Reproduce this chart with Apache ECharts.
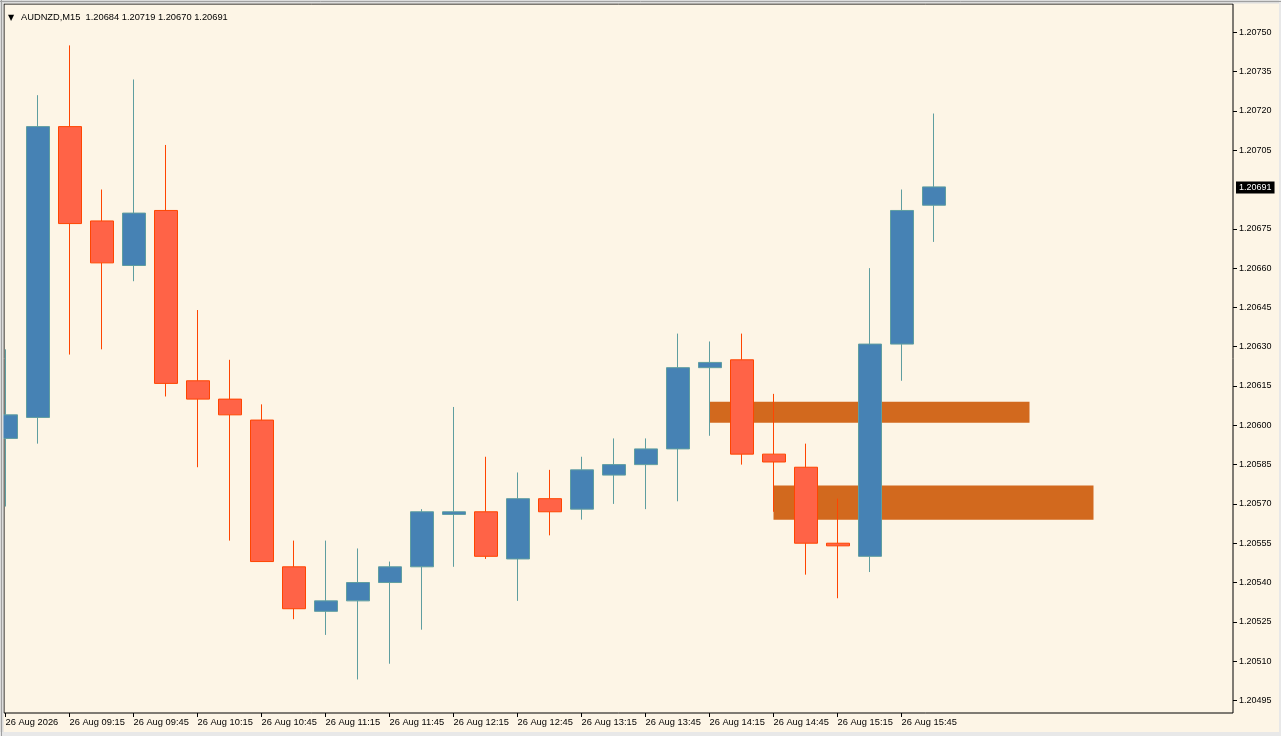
<!DOCTYPE html>
<html>
<head>
<meta charset="utf-8">
<title>AUDNZD,M15</title>
<script src="https://cdn.jsdelivr.net/npm/echarts@6/dist/echarts.min.js"></script>
<style>
  html, body { margin: 0; padding: 0; background: #fdf5e6; }
  #box { width: 1281px; height: 736px; }
</style>
</head>
<body>
<div id="box"></div>
<script>
// bar slots (15 min), the last ones are empty space on the right of the chart
var times = ['08:45', '09:00', '09:15', '09:30', '09:45', '10:00', '10:15', '10:30', '10:45', '11:00',
  '11:15', '11:30', '11:45', '12:00', '12:15', '12:30', '12:45', '13:00', '13:15', '13:30',
  '13:45', '14:00', '14:15', '14:30', '14:45', '15:00', '15:15', '15:30', '15:45', '16:00',
  '16:15', '16:30', '16:45', '17:00', '17:15', '17:30', '17:45', '18:00', '18:15']

var opens = [1.20595, 1.20603, 1.20714, 1.20678, 1.20661, 1.20682, 1.20617, 1.20610, 1.20602, 1.20546,
  1.20529, 1.20533, 1.20540, 1.20546, 1.20566, 1.20567, 1.20549, 1.20572, 1.20568, 1.20581,
  1.20585, 1.20591, 1.20622, 1.20625, 1.20589, 1.20584, 1.20555, 1.20550, 1.20631, 1.20684]
var closes = [1.20604, 1.20714, 1.20677, 1.20662, 1.20681, 1.20616, 1.20610, 1.20604, 1.20548, 1.20530,
  1.20533, 1.20540, 1.20546, 1.20567, 1.20567, 1.20550, 1.20572, 1.20567, 1.20583, 1.20585,
  1.20591, 1.20622, 1.20624, 1.20589, 1.20586, 1.20555, 1.20554, 1.20631, 1.20682, 1.20691]
var lows = [1.20569, 1.20593, 1.20627, 1.20629, 1.20655, 1.20611, 1.20584, 1.20556, 1.20548, 1.20526,
  1.20520, 1.20503, 1.20509, 1.20522, 1.20546, 1.20549, 1.20533, 1.20558, 1.20564, 1.20570,
  1.20568, 1.20571, 1.20596, 1.20585, 1.20567, 1.20543, 1.20534, 1.20544, 1.20617, 1.20670]
var highs = [1.20629, 1.20726, 1.20745, 1.20690, 1.20732, 1.20707, 1.20644, 1.20625, 1.20608, 1.20556,
  1.20556, 1.20553, 1.20548, 1.20568, 1.20607, 1.20588, 1.20582, 1.20583, 1.20588, 1.20595,
  1.20595, 1.20635, 1.20632, 1.20635, 1.20612, 1.20593, 1.20572, 1.20660, 1.20690, 1.20719]

// zones: [from bar, to bar, top price, bottom price]
var zones = [
  [22, 32, 1.20609, 1.20601],
  [24, 34, 1.20577, 1.20564]
]

var priceTicks = [1.20495, 1.20510, 1.20525, 1.20540, 1.20555, 1.20570, 1.20585, 1.20600, 1.20615,
  1.20630, 1.20645, 1.20660, 1.20675, 1.20705, 1.20720, 1.20735, 1.20750]
var lastPrice = 1.20691
var yMin = 1.204902
var yMax = 1.207608

var candles = []
for (var i = 0; i < opens.length; i++) {
  candles.push([opens[i], closes[i], lows[i], highs[i]])
}

var font = 'Liberation Sans'
function showTime(idx) {
  return idx % 2 === 0 && idx <= 28
}

var mCharts = echarts.init(document.querySelector('#box'))
var option = {
  animation: false,
  backgroundColor: '#fdf5e6',
  title: {
    left: 3,
    top: 8,
    text: '{t|▼}AUDNZD,M15  1.20684 1.20719 1.20670 1.20691',
    textStyle: {
      fontFamily: font,
      fontSize: 9.3,
      fontWeight: 'normal',
      color: '#000',
      rich: {
        t: { fontSize: 8, width: 13, color: '#000', fontFamily: 'DejaVu Sans' }
      }
    }
  },
  // window edge (also hides the part of the first bar left of the frame)
  graphic: [
    { type: 'rect', z: 100, shape: { x: 0, y: 0, width: 1281, height: 3.5 }, style: { fill: '#dcdcdc' }, silent: true },
    { type: 'rect', z: 100, shape: { x: 0, y: 0, width: 3.5, height: 736 }, style: { fill: '#dcdcdc' }, silent: true },
    { type: 'rect', z: 100, shape: { x: 0, y: 732, width: 1281, height: 4 }, style: { fill: '#e8e8e8' }, silent: true },
    { type: 'rect', z: 100, shape: { x: 1279, y: 0, width: 2, height: 736 }, style: { fill: '#e8e8e8' }, silent: true },
    { type: 'line', z: 101, shape: { x1: 1.5, y1: 0, x2: 1.5, y2: 736 }, style: { stroke: '#a0a0a0', lineWidth: 1 }, silent: true },
    { type: 'line', z: 101, shape: { x1: 0, y1: 1.5, x2: 1281, y2: 1.5 }, style: { stroke: '#a0a0a0', lineWidth: 1 }, silent: true }
  ],
  grid: [
    // bars
    { left: 5.5, top: 4, width: 1216, bottom: 23 },
    // frame + price scale
    { left: 4, top: 4, right: 48, bottom: 23, show: true, borderColor: '#000', borderWidth: 1, backgroundColor: 'transparent', z: 0 }
  ],
  xAxis: [
    {
      type: 'category',
      gridIndex: 0,
      data: times,
      boundaryGap: false,
      axisLine: { show: false, onZero: false },
      axisTick: { show: true, length: 4, interval: showTime, lineStyle: { color: '#000' } },
      axisLabel: {
        interval: showTime,
        align: 'left',
        margin: 5,
        fontFamily: font,
        fontSize: 9.3,
        color: '#000',
        formatter: function (value, idx) {
          return idx === 0 ? '26 Aug 2026' : '26 Aug ' + value
        }
      },
      splitLine: { show: false }
    },
    { type: 'value', gridIndex: 1, min: 0, max: 1, show: false }
  ],
  yAxis: [
    {
      type: 'value', gridIndex: 0, min: yMin, max: yMax, show: false,
      axisLine: { show: false, onZero: false }, axisTick: { show: false }, axisLabel: { show: false }, splitLine: { show: false }
    },
    {
      type: 'value',
      gridIndex: 1,
      position: 'right',
      min: yMin,
      max: yMax,
      axisLine: { show: false, onZero: false },
      axisTick: { show: true, length: 4, customValues: priceTicks, lineStyle: { color: '#000' } },
      axisLabel: {
        customValues: priceTicks,
        margin: 6,
        fontFamily: font,
        fontSize: 9,
        color: '#000',
        formatter: function (v) { return v.toFixed(5) }
      },
      splitLine: { show: false }
    }
  ],
  series: [
    {
      type: 'custom',
      xAxisIndex: 0,
      yAxisIndex: 0,
      z: 1,
      silent: true,
      data: zones,
      renderItem: function (params, api) {
        var p1 = api.coord([api.value(0), api.value(2)])
        var p2 = api.coord([api.value(1), api.value(3)])
        return {
          type: 'rect',
          shape: { x: p1[0], y: p1[1], width: p2[0] - p1[0], height: p2[1] - p1[1] },
          style: { fill: '#d2691e' }
        }
      }
    },
    {
      type: 'candlestick',
      xAxisIndex: 0,
      yAxisIndex: 0,
      z: 3,
      barWidth: 23.5,
      clip: false,
      data: candles,
      itemStyle: {
        color: '#4682b4',
        color0: '#ff6347',
        borderColor: '#5f9ea0',
        borderColor0: '#ff4500',
        borderWidth: 1
      }
    },
    {
      // last price tag on the price scale
      type: 'custom',
      xAxisIndex: 1,
      yAxisIndex: 1,
      z: 5,
      silent: true,
      clip: false,
      data: [[1, lastPrice]],
      renderItem: function (params, api) {
        var p = api.coord([api.value(0), api.value(1)])
        return {
          type: 'text',
          x: p[0] + 3,
          y: p[1] + 0.5,
          style: {
            text: api.value(1).toFixed(5),
            fill: '#fff',
            backgroundColor: '#000',
            padding: [2, 3, 1, 3],
            font: '9px "Liberation Sans"',
            verticalAlign: 'middle',
            align: 'left'
          }
        }
      }
    }
  ]
}
mCharts.setOption(option)
</script>
</body>
</html>
